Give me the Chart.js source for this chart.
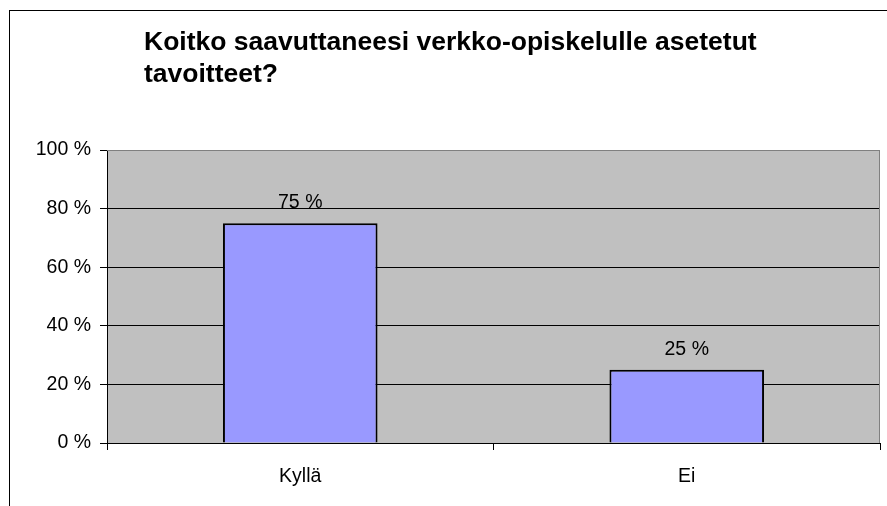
<!DOCTYPE html>
<html>
<head>
<meta charset="utf-8">
<script src="https://cdn.jsdelivr.net/npm/chart.js@4"></script>
<style>
html,body{margin:0;padding:0;background:#fff;}
canvas{display:block;}
</style>
</head>
<body>
<canvas id="c" width="887" height="506"></canvas>
<script>
const categories = ['Kyllä', 'Ei'];
const values = [75, 25];
const yTickValues = [0, 20, 40, 60, 80, 100];
const titleLines = ['Koitko saavuttaneesi verkko-opiskelulle asetetut', 'tavoitteet?'];

const FONT = "'Liberation Sans', Arial, sans-serif";
const TEXT_SIZE = 19.5;
Chart.defaults.font.family = FONT;
Chart.defaults.color = '#000';

const framePlugin = {
  id: 'frame',
  afterLayout(chart) {
    if (chart.titleBlock) { chart.titleBlock.left = 144; }
  },
  beforeDraw(chart) {
    const ctx = chart.ctx, a = chart.chartArea;
    ctx.save();
    ctx.strokeStyle = '#000';
    ctx.lineWidth = 1;
    ctx.strokeRect(9.5, 10.5, 1000, 1000);
    ctx.fillStyle = '#C0C0C0';
    ctx.fillRect(a.left, a.top, a.right - a.left, a.bottom - a.top);
    ctx.restore();
  },
  afterDatasetsDraw(chart) {
    const ctx = chart.ctx, a = chart.chartArea;
    ctx.save();
    ctx.strokeStyle = '#808080';
    ctx.lineWidth = 1;
    ctx.beginPath();
    ctx.moveTo(a.left, a.top + 0.5);
    ctx.lineTo(a.right - 0.5, a.top + 0.5);
    ctx.lineTo(a.right - 0.5, a.bottom);
    ctx.stroke();
    // value labels
    ctx.fillStyle = '#000';
    ctx.font = TEXT_SIZE + 'px ' + FONT;
    ctx.textAlign = 'center';
    ctx.textBaseline = 'alphabetic';
    const meta = chart.getDatasetMeta(0);
    meta.data.forEach((el, i) => {
      ctx.fillText(values[i] + ' %', el.x, el.y - 15);
    });
    ctx.restore();
  }
};

new Chart(document.getElementById('c'), {
  type: 'bar',
  data: {
    labels: categories,
    datasets: [{
      data: values,
      backgroundColor: '#9999FF',
      borderColor: '#000',
      borderWidth: 2,
      barPercentage: 0.4,
      categoryPercentage: 1
    }]
  },
  options: {
    responsive: false,
    animation: false,
    devicePixelRatio: 1,
    layout: { padding: { left: 0, right: 7, top: 0, bottom: 0 } },
    plugins: {
      legend: { display: false },
      tooltip: { enabled: false },
      title: {
        display: true,
        text: titleLines,
        align: 'start',
        color: '#000',
        font: { family: FONT, size: 26.5, weight: 'bold', lineHeight: 32 / 26.5 },
        padding: { top: 27, bottom: 59 }
      }
    },
    scales: {
      x: {
        type: 'category',
        offset: true,
        grid: {
          offset: true,
          drawOnChartArea: false,
          drawTicks: true,
          tickLength: 7,
          color: '#000'
        },
        border: { color: '#000', width: 1 },
        ticks: { font: { size: TEXT_SIZE, family: FONT }, color: '#000', padding: 15, maxRotation: 0 },
        afterFit(s) { s.height = 63; }
      },
      y: {
        min: 0,
        max: 100,
        afterBuildTicks(s) { s.ticks = yTickValues.map(v => ({ value: v })); },
        grid: {
          color: (c) => (c.tick && c.tick.value === 100) ? '#808080' : '#000',
          tickColor: '#000',
          tickLength: 7,
          lineWidth: 1
        },
        border: { color: '#000', width: 1 },
        ticks: {
          font: { size: TEXT_SIZE, family: FONT },
          color: '#000',
          padding: 9,
          callback: (v) => v + ' %'
        },
        afterFit(s) { s.width = 107; }
      }
    }
  },
  plugins: [framePlugin]
});
</script>
</body>
</html>
